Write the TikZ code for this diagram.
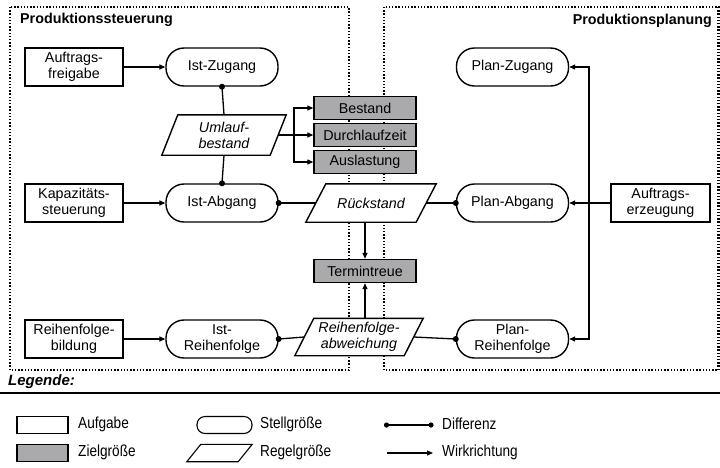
\documentclass[tikz,border=0pt]{standalone}
\usepackage{fontspec}
\setmainfont{Liberation Sans}
\newfontfamily\narrowfont{Liberation Sans}[FakeStretch=0.85]
\usetikzlibrary{arrows.meta}
\pgfdeclarelayer{bg}
\pgfsetlayers{bg,main}
\definecolor{zgray}{RGB}{170,170,172}

% parallelogram outline around a (rectangular, undrawn) node; #1 = node, #2 = half slant
\newcommand{\slantbox}[2]{%
  \begin{pgfonlayer}{bg}
    \draw[fill=white, line width=1.4pt, line join=miter]
      ([xshift=-#2]#1.south west) -- ([xshift=#2]#1.north west) --
      ([xshift=#2]#1.north east) -- ([xshift=-#2]#1.south east) -- cycle;
  \end{pgfonlayer}}

\begin{document}
\begin{tikzpicture}[x=1pt,y=-1pt,
  every node/.style={font=\fontsize{14.3}{16}\selectfont, inner sep=0pt, align=center},
  task/.style={draw, fill=white, line width=1.4pt, rectangle, minimum width=98pt, minimum height=38pt},
  stell/.style={draw, fill=white, line width=1.4pt, rectangle, rounded corners=18pt, minimum width=112pt, minimum height=38pt},
  ziel/.style={draw, fill=zgray, line width=1.4pt, rectangle, minimum width=102pt, minimum height=23pt},
  regel/.style={rectangle, minimum width=110pt, minimum height=38pt, font=\fontsize{14.3}{16}\selectfont\itshape},
  frame/.style={line width=2.2pt, dash pattern=on 1.4pt off 1.8pt},
  conn/.style={line width=1.3pt},
  arr/.style={conn, -{Triangle[length=6pt,width=5pt]}},
  dot/.style={fill=black},
  legtxt/.style={anchor=west, font=\narrowfont\fontsize{16}{18}\selectfont},
]
\useasboundingbox (0,0) rectangle (720,467);

% control area and planning area
\begin{pgfonlayer}{bg}
  \draw[frame] (10,7) rectangle (349,370);
  \draw[frame] (384,7) rectangle (718.5,370);
\end{pgfonlayer}
\node[anchor=west, font=\fontsize{14.3}{16}\selectfont\bfseries] (tps) at (20,20) {Produktionssteuerung};
\node[anchor=east, font=\fontsize{14.3}{16}\selectfont\bfseries] (tpp) at (712,21) {Produktionsplanung};

% tasks
\node[task] (afr) at (74,67) {Auftrags-\\freigabe};
\node[task] (kap) at (74,203) {Kapazitäts-\\steuerung};
\node[task] (rfb) at (74,339) {Reihenfolge-\\bildung};
\node[task, minimum width=99pt] (aer) at (660.5,203) {Auftrags-\\erzeugung};

% manipulated variables
\node[stell] (iz) at (222,67) {Ist-Zugang};
\node[stell] (ia) at (222,203) {Ist-Abgang};
\node[stell] (ir) at (222,339) {Ist-\\Reihenfolge};
\node[stell] (pz) at (512.5,67) {Plan-Zugang};
\node[stell] (pa) at (512.5,203) {Plan-Abgang};
\node[stell] (pr) at (512.5,339) {Plan-\\Reihenfolge};

% controlled variables
\node[regel, minimum width=108pt, minimum height=40pt] (um) at (224,135) {Umlauf-\\bestand};
\slantbox{um}{8pt}
\node[regel] (rs) at (371,203) {Rückstand};
\slantbox{rs}{10pt}
\node[regel, minimum width=109pt, minimum height=37pt] (rfa) at (359,337) {Reihenfolge-\\abweichung};
\slantbox{rfa}{9.5pt}

% target variables
\node[ziel] (be) at (365,108) {Bestand};
\node[ziel] (dl) at (365,135) {Durchlaufzeit};
\node[ziel] (al) at (365,162) {Auslastung};
\node[ziel] (tt) at (365,271) {Termintreue};

% connectors
\draw[arr] (afr.east) -- (iz.west);
\draw[arr] (kap.east) -- (ia.west);
\draw[arr] (rfb.east) -- (ir.west);

\draw[conn] (iz.south) -- (um.north);
\draw[conn] (um.south) -- (ia.north);
\draw[conn] (ia.east) -- (rs.west);
\draw[conn] (rs.east) -- (pa.west);
\draw[conn] (ir.east) -- (rfa.west);
\draw[conn] (rfa.east) -- (pr.west);

\coordinate (br) at (294,135);
\draw[arr] (um.east) -- (dl.west);
\draw[arr] (br) |- (be.west);
\draw[arr] (br) |- (al.west);

\draw[arr] (tt.north |- rs.south) -- (tt.north);
\draw[arr] (tt.south |- rfa.north) -- (tt.south);

\coordinate (bus) at (589,203);
\draw[arr] (aer.west) -- (pa.east);
\draw[arr] (bus) |- (pz.east);
\draw[arr] (bus) |- (pr.east);

% difference points
\foreach \p in {iz.south, ia.north, ia.east, pa.west, ir.east, pr.west}
  \fill[dot] (\p) circle (3pt);

% legend
\node[anchor=west, font=\fontsize{15}{17}\selectfont\bfseries\itshape] (leg) at (8,382) {Legende:};
\coordinate (rl) at (0,393);
\coordinate (rr) at (720,393);
\draw[line width=2.4pt] (rl) -- (rr);

\node[task, minimum width=51pt, minimum height=17pt, line width=1.1pt] (ltask) at (42.5,425) {};
\node[legtxt] (ltaskt) at (78,424) {Aufgabe};
\node[ziel, minimum width=51pt, minimum height=17pt, line width=1.1pt] (lziel) at (42.5,453) {};
\node[legtxt] (lzielt) at (78,452) {Zielgröße};

\node[stell, minimum width=55pt, minimum height=17pt, rounded corners=8pt, line width=1.1pt] (lstell) at (224.5,425) {};
\node[legtxt] (lstellt) at (260,424) {Stellgröße};
\node[regel, minimum width=51pt, minimum height=17pt] (lregel) at (219.5,453) {};
\begin{pgfonlayer}{bg}
  \draw[fill=white, line width=1.1pt]
    ([xshift=-7pt]lregel.south west) -- ([xshift=7pt]lregel.north west) --
    ([xshift=7pt]lregel.north east) -- ([xshift=-7pt]lregel.south east) -- cycle;
\end{pgfonlayer}
\node[legtxt] (lregelt) at (260,452) {Regelgröße};

\coordinate (ld1) at (386.5,425);
\coordinate (ld2) at (431,425);
\draw[conn, line width=1.1pt] (ld1) -- (ld2);
\fill[dot] (ld1) circle (2.6pt);
\fill[dot] (ld2) circle (2.6pt);
\node[legtxt] (ldt) at (442,424) {Differenz};

\coordinate (lw1) at (387,453);
\coordinate (lw2) at (433,453);
\draw[arr, line width=1.1pt] (lw1) -- (lw2);
\node[legtxt] (lwt) at (442,452) {Wirkrichtung};
\end{tikzpicture}
\end{document}
